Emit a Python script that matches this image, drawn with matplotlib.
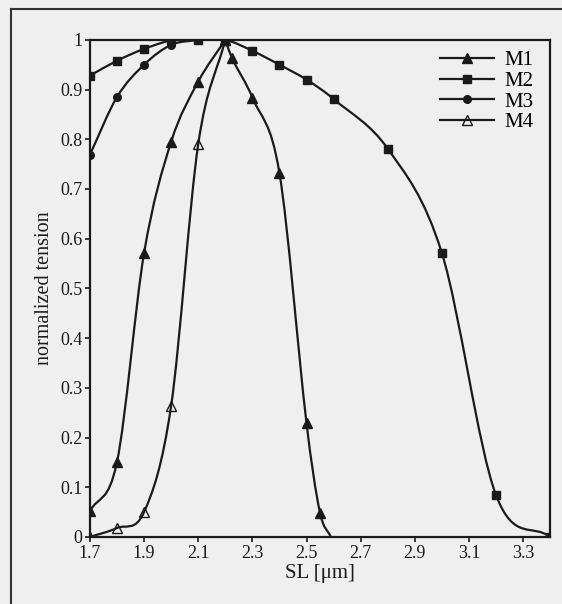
import numpy as np
import matplotlib
matplotlib.use("Agg")
import matplotlib.pyplot as plt
from matplotlib.path import Path
from matplotlib.patches import PathPatch
from matplotlib.lines import Line2D

plt.rcParams['font.family'] = ['Liberation Serif', 'DejaVu Serif']

# valeurs (SL en um, tension normalisee)
m1_x = [1.7, 1.8, 1.9, 2.0, 2.1, 2.2, 2.225, 2.3, 2.4, 2.5, 2.55, 2.59]
m1_y = [0.052, 0.151, 0.571, 0.795, 0.916, 1.0, 0.963, 0.884, 0.732, 0.229, 0.048, 0.0]
m2_x = [1.7, 1.8, 1.9, 2.0, 2.1, 2.2, 2.3, 2.4, 2.5, 2.6, 2.8, 3.0, 3.2, 3.4]
m2_y = [0.928, 0.958, 0.982, 1.0, 1.0, 1.0, 0.978, 0.95, 0.92, 0.881, 0.781, 0.571, 0.084, 0.0]
m3_x = [1.7, 1.8, 1.9, 2.0, 2.1, 2.2]
m3_y = [0.769, 0.885, 0.95, 0.99, 1.0, 1.0]
m4_x = [1.7, 1.8, 1.9, 2.0, 2.1, 2.2]
m4_y = [0.0, 0.018, 0.05, 0.264, 0.79, 1.0]

x_ticks = [1.7, 1.9, 2.1, 2.3, 2.5, 2.7, 2.9, 3.1, 3.3]
y_ticks = [0, 0.1, 0.2, 0.3, 0.4, 0.5, 0.6, 0.7, 0.8, 0.9, 1]

bg = '#efefef'
ink = '#1a1a1a'


def hermite_piece(x, y, verts, codes):
    # segments de Bezier cubiques (Hermite, pentes par differences finies)
    n = len(x)
    m = np.zeros(n)
    for i in range(n):
        a, b = max(i - 1, 0), min(i + 1, n - 1)
        m[i] = (y[b] - y[a]) / (x[b] - x[a])
    if not verts:
        verts.append((x[0], y[0]))
        codes.append(Path.MOVETO)
    for i in range(n - 1):
        h = x[i + 1] - x[i]
        verts += [(x[i] + h / 3, y[i] + m[i] * h / 3),
                  (x[i + 1] - h / 3, y[i + 1] - m[i + 1] * h / 3),
                  (x[i + 1], y[i + 1])]
        codes += [Path.CURVE4] * 3


def smooth_path(xs, ys):
    x = np.asarray(xs, float)
    y = np.asarray(ys, float)
    k = int(np.argmax(y))  # pointe au maximum
    verts, codes = [], []
    if 0 < k < len(x) - 1:
        hermite_piece(x[:k + 1], y[:k + 1], verts, codes)
        hermite_piece(x[k:], y[k:], verts, codes)
    else:
        hermite_piece(x, y, verts, codes)
    return Path(verts, codes)


fig = plt.figure(figsize=(5.62, 6.04), dpi=100, facecolor=bg)
ax = fig.add_axes([0.160, 0.111, 0.819, 0.823], facecolor=bg)

series = [
    ("M1", m1_x, m1_y, dict(marker='^', mfc=ink, ms=7), len(m1_x) - 1),
    ("M2", m2_x, m2_y, dict(marker='s', mfc=ink, ms=5.5), len(m2_x)),
    ("M3", m3_x, m3_y, dict(marker='o', mfc=ink, ms=5.5), len(m3_x)),
    ("M4", m4_x, m4_y, dict(marker='^', mfc='none', ms=7), len(m4_x)),
]

handles = []
for name, xs, ys, mk, n_mk in series:
    ax.add_patch(PathPatch(smooth_path(xs, ys), fill=False, edgecolor=ink, lw=1.6, zorder=2))
    ax.plot(xs[:n_mk], ys[:n_mk], linestyle='none', color=ink, mec=ink, mew=1.0, zorder=3, **mk)
    handles.append(Line2D([], [], color=ink, lw=1.6, mec=ink, mew=1.0, **mk))

ax.set_xlim(1.7, 3.4)
ax.set_ylim(0, 1)
ax.set_xticks(x_ticks)
ax.set_xticklabels(["%g" % v for v in x_ticks])
ax.set_yticks(y_ticks)
ax.set_yticklabels(["%g" % v for v in y_ticks])
ax.tick_params(direction='out', length=3.5, width=1.2, colors=ink, labelsize=13, pad=2)
for s in ax.spines.values():
    s.set_linewidth(1.6)
    s.set_color(ink)

ax.set_xlabel("SL [μm]", fontsize=15, color=ink, labelpad=2)
ax.set_ylabel("normalized tension", fontsize=14.5, color=ink, labelpad=4)

ax.legend(handles, ["M1", "M2", "M3", "M4"], loc='upper right', frameon=False,
          fontsize=15, handlelength=2.6, handletextpad=0.5, labelspacing=0.05,
          borderaxespad=0.0, bbox_to_anchor=(0.982, 0.995))

# cadre exterieur de la figure scannee
fig.add_artist(Line2D([11 / 562, 1], [1 - 9 / 604, 1 - 9 / 604], color='#333333', lw=1.5))
fig.add_artist(Line2D([11 / 562, 11 / 562], [0, 1 - 9 / 604], color='#333333', lw=1.5))

fig.savefig("out.png", dpi=100, facecolor=bg)
